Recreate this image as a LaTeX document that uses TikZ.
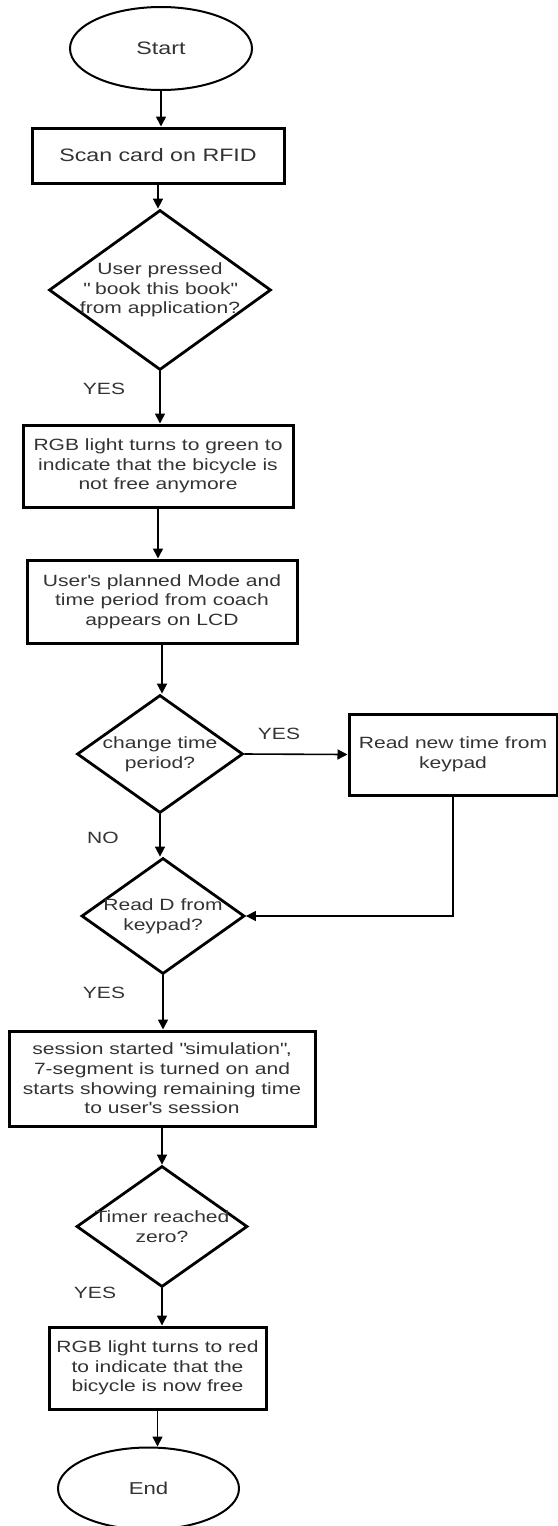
\documentclass[tikz,border=0pt]{standalone}
\usepackage{fontspec}
\setmainfont{Liberation Sans}[FakeStretch=1.29]
\usetikzlibrary{shapes.geometric, arrows.meta}

\begin{document}
\begin{tikzpicture}[x=0.5pt, y=-0.5pt,
        every node/.style={font=\fontsize{8.15}{9.8}\selectfont, text=black!80, align=center},
        big/.style={font=\fontsize{9}{10.8}\selectfont},
        box/.style={draw=black, line width=1.5pt, rectangle, inner sep=0pt},
        term/.style={draw=black, line width=1pt, ellipse, inner sep=0pt},
        decision/.style={draw=black, line width=1.4pt, diamond, inner sep=0pt},
        arr/.style={-{Triangle[length=5pt,width=5pt]}, line width=0.8pt, black}]
    \useasboundingbox (0,0) rectangle (557,1526);
    \node[term, big, minimum width=91pt, minimum height=41.5pt] (start) at (161,48.5) {Start};
    \node[box, big, minimum width=126pt, minimum height=27.5pt] (scan) at (158,155.5) {Scan card on RFID};
    \node[decision, minimum width=111pt, minimum height=80pt,
        label={center:{User pressed\\\textquotedbl\ book this book\textquotedbl\\from application?}}] (d1) at (160,290) {};
    \node[box, minimum width=135pt, minimum height=41pt] (green) at (158,466)
        {RGB light turns to green to\\indicate that the bicycle is\\not free anymore};
    \node[box, minimum width=135pt, minimum height=41.5pt] (mode) at (162,601.5)
        {User\textquotesingle s planned Mode and\\time period from coach\\appears on LCD};
    \node[decision, minimum width=83pt, minimum height=59pt,
        label={center:{change time\\period?}}] (d2) at (160,754) {};
    \node[box, minimum width=104pt, minimum height=40.5pt] (newtime) at (453,754.5)
        {Read new time from\\keypad};
    \node[decision, minimum width=81.5pt, minimum height=58pt,
        label={center:{Read D from\\keypad?}}] (d3) at (163,916) {};
    \node[box, minimum width=153pt, minimum height=47.5pt] (session) at (162,1078.5)
        {session started \textquotedbl simulation\textquotedbl,\\7-segment is turned on and\\starts showing remaining time\\to user\textquotesingle s session};
    \node[decision, minimum width=85.5pt, minimum height=60.5pt,
        label={center:{Timer reached\\zero?}}] (d4) at (162,1226.5) {};
    \node[box, minimum width=108.5pt, minimum height=41pt] (red) at (157.5,1368)
        {RGB light turns to red\\to indicate that the\\bicycle is now free};
    \node[term, font=\fontsize{8.6}{10.3}\selectfont, minimum width=90.5pt, minimum height=41pt] (end) at (148.5,1488.5) {End};

    \node (yes1) at (104,389) {YES};
    \node (yes2) at (279,734) {YES};
    \node (no1) at (103,838) {NO};
    \node (yes3) at (104,993) {YES};
    \node (yes4) at (95,1293) {YES};

    \foreach \a/\b in {start/scan, scan/d1, d1/green, green/mode, mode/d2, d2/d3, d3/session, session/d4, d4/red, red/end}
        \draw[arr] (\a.south) -- (\a.south |- \b.north);
    \draw[arr] (d2.east) -- (newtime.west);
    \draw[arr] (newtime.south) |- (d3.east);
\end{tikzpicture}
\end{document}
